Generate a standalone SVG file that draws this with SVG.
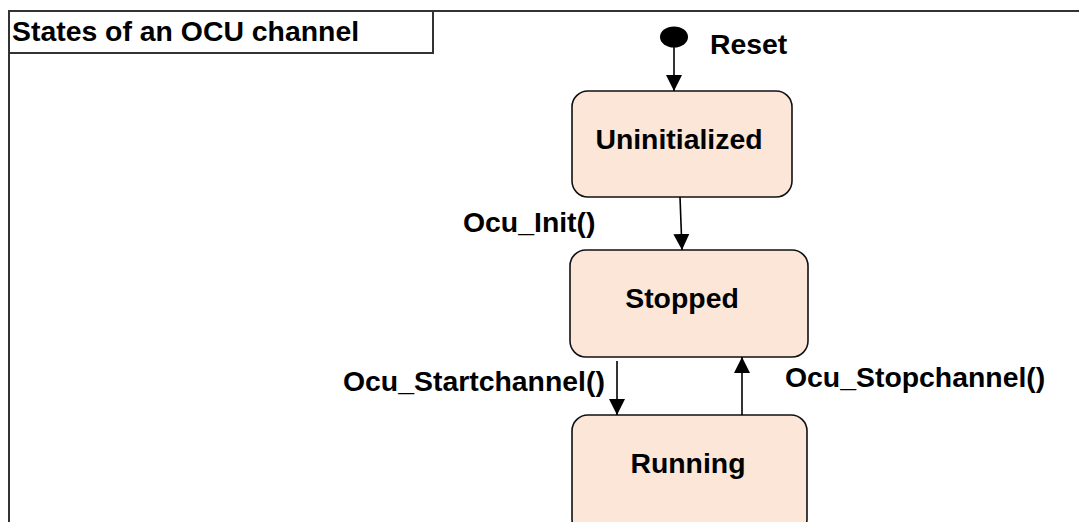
<svg xmlns="http://www.w3.org/2000/svg" width="1079" height="522" viewBox="0 0 1079 522">
<style>
.frame{fill:none;stroke:#333;stroke-width:2}
.state{fill:#FBE6D7;stroke:#111;stroke-width:1.6}
.t{font-family:"Liberation Sans",Arial,sans-serif;font-weight:bold;font-size:28.4px;fill:#000}
.c{text-anchor:middle}
.edge{stroke:#000;stroke-width:1.6;fill:none;marker-end:url(#ah)}
</style>
<defs>
<marker id="ah" viewBox="0 0 16 16" refX="16" refY="8" markerWidth="16" markerHeight="16" markerUnits="userSpaceOnUse" orient="auto">
<path d="M0,0 L16,8 L0,16 Z" fill="#000"/>
</marker>
</defs>
<rect width="1079" height="522" fill="#fff"/>
<g id="frame">
<path class="frame" d="M9,522 V11 H1079"/>
<rect class="frame" x="9" y="11" width="424" height="42"/>
<text class="t" x="12" y="41">States of an OCU channel</text>
</g>
<g id="initial">
<ellipse cx="674" cy="37" rx="14" ry="10.5" fill="#000"/>
<text class="t" x="710" y="54">Reset</text>
</g>
<g id="uninitialized">
<rect class="state" x="572" y="91" width="220" height="106" rx="16"/>
<text class="t c" x="679" y="149">Uninitialized</text>
</g>
<g id="stopped">
<rect class="state" x="570" y="250" width="238" height="107" rx="16"/>
<text class="t c" x="682" y="308">Stopped</text>
</g>
<g id="running">
<rect class="state" x="572" y="415" width="235" height="120" rx="16"/>
<text class="t c" x="688" y="473">Running</text>
</g>
<g id="connectors">
<line class="edge" x1="680" y1="197" x2="682" y2="250"/>
<line class="edge" x1="674" y1="47" x2="674" y2="91"/>
<line class="edge" x1="617" y1="361" x2="617" y2="415"/>
<line class="edge" x1="742" y1="415" x2="742" y2="357"/>
<text class="t" x="463" y="232">Ocu_Init()</text>
<text class="t" x="343" y="391">Ocu_Startchannel()</text>
<text class="t" x="785" y="387">Ocu_Stopchannel()</text>
</g>
</svg>
